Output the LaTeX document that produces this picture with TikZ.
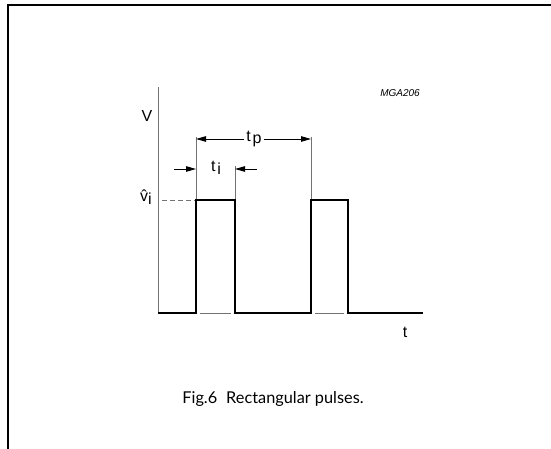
\documentclass[tikz,border=0pt]{standalone}
\usepackage{fontspec}
\setmainfont{Liberation Sans}
\newfontfamily\capfont{Lato}
\usetikzlibrary{arrows.meta}
\begin{document}
\begin{tikzpicture}[x=1pt,y=-1pt,
  frameline/.style={line width=2pt,black},
  guide/.style={line width=0.8pt,black!55},
  sig/.style={line width=1.7pt,black,line join=miter},
  dimarrow/.style={line width=0.9pt,black,-{Triangle[length=10pt,width=5.5pt]}},
  lab/.style={inner sep=0pt,font=\fontsize{16}{18}\selectfont},
  tagtext/.style={inner sep=0pt,font=\fontsize{10}{11}\selectfont\itshape},
  captext/.style={inner sep=0pt,font=\capfont\fontsize{16.3}{19}\selectfont}]
\useasboundingbox (0,0) rectangle (551,449);
% frame
\draw[frameline] (8,449) -- (8,5.5) -- (551,5.5);
% coordinates
\coordinate (a0) at (158,87);
\coordinate (o) at (158,313);
\coordinate (p1l) at (196,313);
\coordinate (p1lt) at (196,200);
\coordinate (p1rt) at (235,200);
\coordinate (p1r) at (235,313);
\coordinate (p2l) at (311,313);
\coordinate (p2lt) at (311,200);
\coordinate (p2rt) at (348,200);
\coordinate (p2r) at (348,313);
\coordinate (end) at (423,313);
% axis
\draw[guide] (a0) -- (o);
% gray baseline parts under pulses
\draw[guide] (200,313) -- (231,313);
\draw[guide] (315,313) -- (344,313);
% extension lines
\coordinate (e1) at (196,137);
\coordinate (e2) at (235,166);
\coordinate (e3) at (311,137);
\draw[guide] (e1) -- (p1lt);
\draw[guide] (e2) -- (p1rt);
\draw[guide] (e3) -- (p2lt);
\draw[guide,dash pattern=on 5pt off 3pt] (162,200) -- (p1lt);
% signal
\draw[sig] (o) -- (p1l) -- (p1lt) -- (p1rt) -- (p1r) -- (p2l) -- (p2lt) -- (p2rt) -- (p2r) -- (end);
% t_p
\node[lab] (tp) at (254,139) {t\hspace{0.12em}\raisebox{-0.35ex}{p}};
\coordinate (tpL) at (196,139);
\coordinate (tpR) at (311,139);
\draw[dimarrow] ([xshift=-2pt]tp.west) -- (tpL);
\draw[dimarrow] ([xshift=2pt]tp.east) -- (tpR);
% t_i
\node[lab] (ti) at (216,168) {t\hspace{0.12em}\raisebox{-0.35ex}{i}};
\coordinate (tiL0) at (174,169);
\coordinate (tiL) at (196,169);
\coordinate (tiR0) at (257,169);
\coordinate (tiR) at (235,169);
\draw[dimarrow] (tiL0) -- (tiL);
\draw[dimarrow] (tiR0) -- (tiR);
% labels
\node[lab] (V) at (147,116) {V};
\node[lab] (vi) at (146,197) {\^{v}\raisebox{-0.35ex}{i}};
\node[lab] (t) at (405,332) {t};
\node[tagtext] (mga) at (400,93) {MGA206};
\node[captext] (caption) at (273,399) {Fig.6\hspace{0.55em}Rectangular pulses.};
\end{tikzpicture}
\end{document}
